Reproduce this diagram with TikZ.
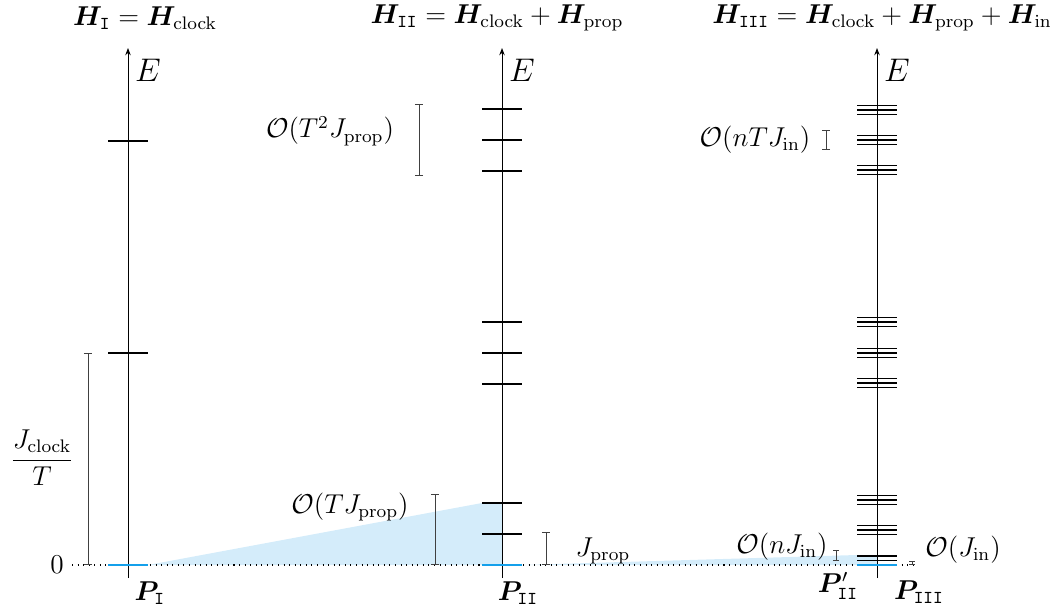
\documentclass[tikz,border=0pt]{standalone}
\usepackage{amsmath}
\usepackage{bm}
\usetikzlibrary{arrows.meta}
\definecolor{gsblue}{RGB}{20,160,235}
\definecolor{gsfill}{RGB}{212,236,250}
\begin{document}
\begin{tikzpicture}[x=0.44pt,y=-0.44pt,
  axis/.style={-{Stealth[length=3.2pt,width=2.4pt]}, line width=0.42pt},
  lev/.style={line width=1.25pt},
  levthin/.style={line width=0.5pt},
  zero/.style={line width=1.25pt, draw=gsblue},
  brk/.style={{Bar[width=3.6pt]}-{Bar[width=3.6pt]}, line width=0.42pt, draw=black!75},
  brks/.style={{Bar[width=2.3pt]}-{Bar[width=2.3pt]}, line width=0.42pt, draw=black!75},
  shade/.style={fill=gsfill, draw=none},
  lbl/.style={inner sep=1pt}
]
\useasboundingbox (0,0) rectangle (1058,613);

% shading
\fill[shade] (148,565) -- (482,503) -- (502,503) -- (502,565) -- cycle;
\fill[shade] (522,565) -- (857,555) -- (877,555) -- (877,565) -- cycle;

% zero line
\draw[dotted, line width=0.45pt] (72,565) -- (915,565);

% axes
\coordinate (a1b) at (128,578); \coordinate (a1t) at (128,48);
\coordinate (a2b) at (502,578); \coordinate (a2t) at (502,48);
\coordinate (a3b) at (877,578); \coordinate (a3t) at (877,48);
\draw[axis] (a1b) -- (a1t);
\draw[axis] (a2b) -- (a2t);
\draw[axis] (a3b) -- (a3t);
\node[lbl, font=\Large] (e1) at (148,70) {$E$};
\node[lbl, font=\Large] (e2) at (522,70) {$E$};
\node[lbl, font=\Large] (e3) at (897,70) {$E$};

% titles
\node[lbl, font=\large] (t1) at (145,18) {$\bm{H}_{\mathtt{I}}=\bm{H}_{\mathrm{clock}}$};
\node[lbl, font=\large] (t2) at (497,18) {$\bm{H}_{\mathtt{II}}=\bm{H}_{\mathrm{clock}}+\bm{H}_{\mathrm{prop}}$};
\node[lbl, font=\large] (t3) at (882,18) {$\bm{H}_{\mathtt{III}}=\bm{H}_{\mathrm{clock}}+\bm{H}_{\mathrm{prop}}+\bm{H}_{\mathrm{in}}$};

% column I levels
\foreach \y in {141,353} \draw[lev] (108,\y) -- (148,\y);
\draw[zero] (108,565) -- (148,565);

% column II levels
\foreach \y in {109,140,171,322,353,384,503,534} \draw[lev] (482,\y) -- (522,\y);
\draw[zero] (482,565) -- (522,565);

% column III levels
\foreach \c in {110,140,170,322,353,383,500,530} {
  \foreach \d in {-4.7,0,4.7} \draw[levthin] (857,\c+\d) -- (897,\c+\d);
}
\draw[levthin] (857,556) -- (897,556);
\draw[levthin] (857,560.5) -- (897,560.5);
\draw[zero, line width=0.8pt] (857,565) -- (897,565);

% brackets
\coordinate (b1t) at (88,353); \coordinate (b1b) at (88,565);
\draw[brk] (b1t) -- (b1b);
\node[lbl, font=\large] (jc) at (42,458) {$\dfrac{J_{\mathrm{clock}}}{T}$};
\node[lbl, font=\large] (zero0) at (57,565) {$0$};

\coordinate (b2t) at (419,104); \coordinate (b2b) at (419,176);
\draw[brk] (b2t) -- (b2b);
\node[lbl, font=\large] (o2) at (330,131) {$\mathcal{O}(T^2J_{\mathrm{prop}})$};

\coordinate (b3t) at (435,494); \coordinate (b3b) at (435,565);
\draw[brk] (b3t) -- (b3b);
\node[lbl, font=\large] (o1) at (350,507) {$\mathcal{O}(TJ_{\mathrm{prop}})$};

\coordinate (b4t) at (546,532); \coordinate (b4b) at (546,565);
\draw[brk] (b4t) -- (b4b);
\node[lbl, font=\large] (jp) at (603,551) {$J_{\mathrm{prop}}$};

\coordinate (b5t) at (826,130); \coordinate (b5b) at (826,150);
\draw[brk] (b5t) -- (b5b);
\node[lbl, font=\large] (o3) at (755,140) {$\mathcal{O}(nTJ_{\mathrm{in}})$};

\coordinate (b6t) at (836,550); \coordinate (b6b) at (836,561);
\draw[brks] (b6t) -- (b6b);
\node[lbl, font=\large] (o4) at (782,547) {$\mathcal{O}(nJ_{\mathrm{in}})$};

\coordinate (b7t) at (912,561); \coordinate (b7b) at (912,565);
\draw[brks] (b7t) -- (b7b);
\node[lbl, font=\large] (o5) at (963,550) {$\mathcal{O}(J_{\mathrm{in}})$};

% projector labels
\node[lbl, font=\large] (p1) at (150,593) {$\bm{P}_{\mathtt{I}}$};
\node[lbl, font=\large] (p2) at (518,593) {$\bm{P}_{\mathtt{II}}$};
\node[lbl, font=\large] (p2p) at (838,586) {$\bm{P}'_{\mathtt{II}}$};
\node[lbl, font=\large] (p3) at (919,592) {$\bm{P}_{\mathtt{III}}$};
\end{tikzpicture}
\end{document}
